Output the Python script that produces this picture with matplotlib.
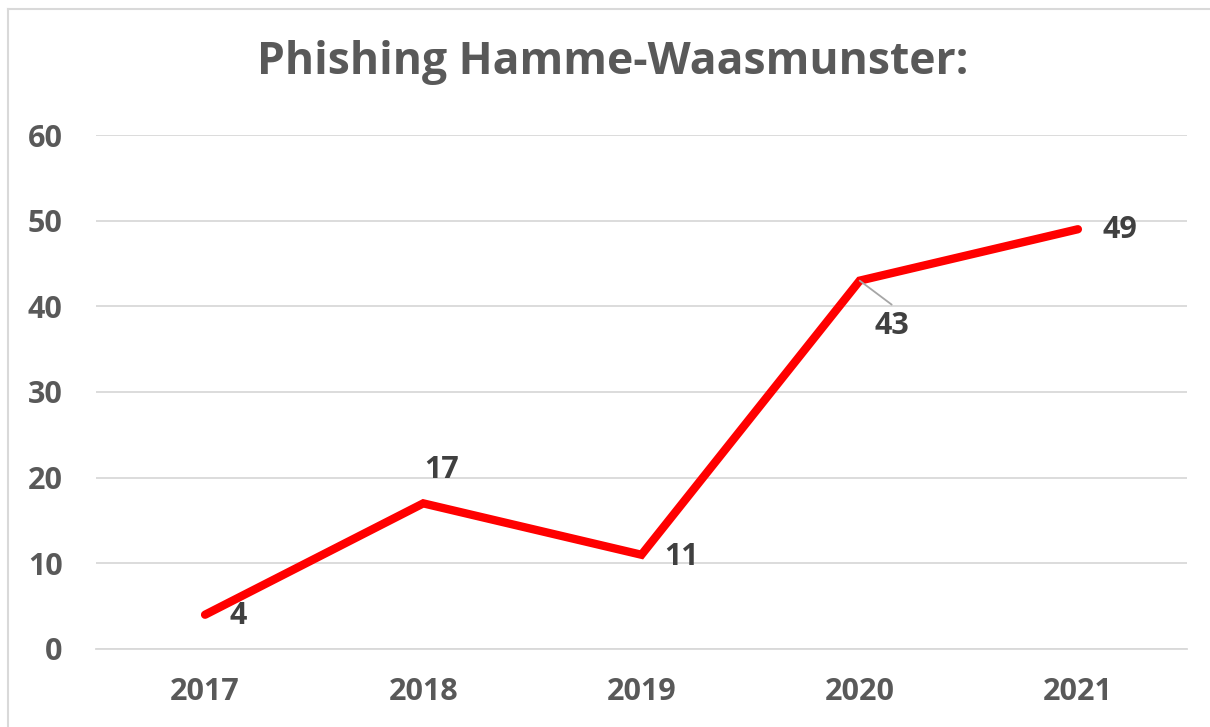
import matplotlib.pyplot as plt
from matplotlib.lines import Line2D

years = ['2017', '2018', '2019', '2020', '2021']
counts = [4, 17, 11, 43, 49]
# label offsets in pixels relative to the point
label_dx = [33, 18, 40, 32, 42]
label_dy = [-1, 33, -2, -45, -1]

plt.rcParams['font.family'] = ['Open Sans', 'DejaVu Sans']

fig = plt.figure(figsize=(12.1, 7.27), dpi=100)
ax = fig.add_axes([0.0793, 0.1073, 0.9017, 0.707])

x = range(len(years))
ax.plot(x, counts, color='#ff0000', linewidth=6, solid_capstyle='round', solid_joinstyle='miter', zorder=3)

for i, v in enumerate(counts):
    ax.annotate(str(v), (i, v), xytext=(label_dx[i], label_dy[i]), textcoords='offset pixels',
                ha='center', va='center', fontsize=22, fontweight='bold', color='#404040', zorder=4)

# leader line for the 2020 label
ax.annotate('', (3, counts[3]), xytext=(32, -24), textcoords='offset pixels',
            arrowprops=dict(arrowstyle='-', color='#a6a6a6', lw=1.3, shrinkA=0, shrinkB=0))

ax.set_xlim(-0.5, 4.5)
ax.set_ylim(0, 60)
ax.set_yticks(range(0, 61, 10))
ax.set_xticks(list(x))
ax.set_xticklabels(years)
ax.grid(axis='y', color='#d9d9d9', linewidth=1.3)
ax.set_axisbelow(True)
for s in ax.spines.values():
    s.set_visible(False)
ax.spines['bottom'].set_visible(True)
ax.spines['bottom'].set_color('#d9d9d9')
ax.spines['bottom'].set_linewidth(1.3)
ax.tick_params(length=0, labelsize=22, labelcolor='#595959')
ax.tick_params(axis='y', pad=24)
ax.tick_params(axis='x', pad=20)
for lab in ax.get_xticklabels() + ax.get_yticklabels():
    lab.set_fontweight('bold')

fig.text(0.506, 0.914, 'Phishing Hamme-Waasmunster:', ha='center', va='center',
         fontsize=32, fontweight='bold', color='#595959')

# chart border
fig.add_artist(Line2D([0.0066, 0.0066], [0, 0.9876], transform=fig.transFigure, color='#d9d9d9', lw=1.5))
fig.add_artist(Line2D([0.0066, 1.0], [0.9876, 0.9876], transform=fig.transFigure, color='#d9d9d9', lw=1.5))

fig.savefig('out.png', dpi=100)
